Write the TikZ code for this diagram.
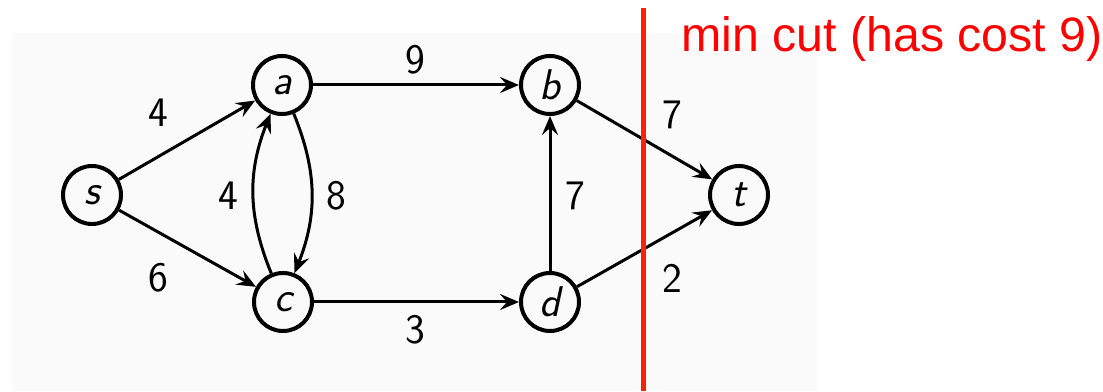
\documentclass[tikz,border=0pt]{standalone}
\usepackage{fontspec}
\newfontfamily\arialfont{Liberation Sans}
\usetikzlibrary{arrows.meta}
\definecolor{bggray}{HTML}{FAFAFA}
\definecolor{cutred}{RGB}{255,34,0}
\begin{document}
\begin{tikzpicture}[x=1pt,y=1pt,
  vertex/.style={circle,draw=black,line width=4pt,minimum size=58pt,inner sep=0pt,
    font=\fontsize{43}{50}\selectfont\sffamily\itshape},
  edge/.style={line width=3pt,-{Stealth[length=19pt,width=16pt,inset=7pt]}},
  elabel/.style={font=\fontsize{42}{50}\selectfont\sffamily,inner sep=0pt}]
\useasboundingbox (0,0) rectangle (1103,391);
\fill[bggray] (12,0) rectangle (817,358);
\node[vertex] (s) at (92,196) {s};
\node[vertex] (a) at (282,306) {a};
\node[vertex] (b) at (550,306) {b};
\node[vertex] (c) at (283,89) {c};
\node[vertex] (d) at (550,89) {d};
\node[vertex] (t) at (739,196) {t};
\draw[edge] (s) -- (a);
\draw[edge] (s) -- (c);
\draw[edge] (a) -- (b);
\draw[edge] (c) -- (d);
\draw[edge] (d) -- (b);
\draw[edge] (b) -- (t);
\draw[edge] (d) -- (t);
\draw[edge] (c) to[bend left=22] (a);
\draw[edge] (a) to[bend left=22] (c);
\node[elabel] (l1) at (158,278) {4};
\node[elabel] (l2) at (158,113) {6};
\node[elabel] (l3) at (415,331) {9};
\node[elabel] (l4) at (415,61) {3};
\node[elabel] (l5) at (228,195) {4};
\node[elabel] (l6) at (336,195) {8};
\node[elabel] (l7) at (575,195) {7};
\node[elabel] (l8) at (672,276) {7};
\node[elabel] (l9) at (672,113) {2};
\coordinate (cuttop) at (643.5,383);
\coordinate (cutbot) at (643.5,0);
\draw[cutred,line width=5pt] (cuttop) -- (cutbot);
\node[anchor=base west,inner sep=0pt,text=red,font=\fontsize{48.3}{58}\selectfont\arialfont] (cut) at (681,339) {min cut (has cost 9)};
\end{tikzpicture}
\end{document}
